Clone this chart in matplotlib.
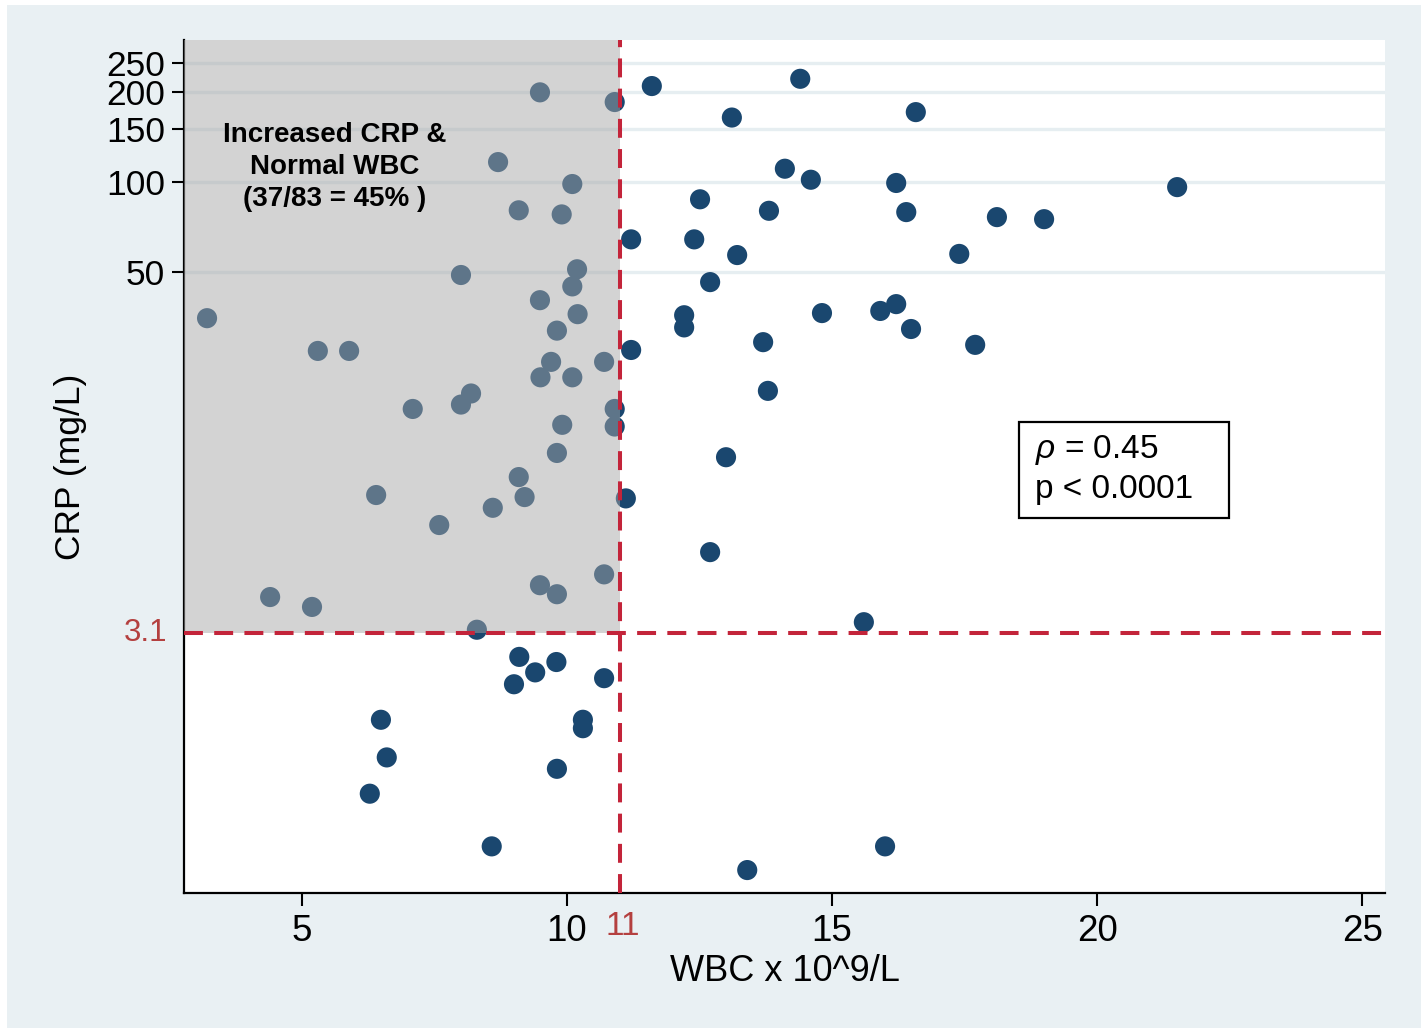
import matplotlib
matplotlib.use("Agg")
import matplotlib.pyplot as plt
from matplotlib.patches import Rectangle

plt.rcParams['font.family'] = ['Liberation Sans', 'DejaVu Sans']
plt.rcParams['mathtext.fontset'] = 'custom'
plt.rcParams['mathtext.rm'] = 'Liberation Sans'
plt.rcParams['mathtext.it'] = 'Liberation Sans:italic'

# WBC (x 10^9/L) and CRP (mg/L) values
wbc = [9.49, 10.90, 8.70, 10.10, 9.09, 9.90, 10.19, 8.00, 10.10, 9.49,
       3.21, 10.20, 9.81, 5.30, 5.89, 9.70, 10.70, 9.50, 10.10, 8.19,
       8.00, 7.09, 10.90, 9.91, 10.90, 9.81, 9.09, 6.40, 9.20, 8.60,
       7.59, 10.70, 9.49, 9.81, 4.40, 5.19,
       11.60, 14.40, 13.11, 16.58, 14.11, 14.60, 16.21, 21.51, 12.51, 13.81,
       16.40, 18.11, 19.00, 11.21, 12.40, 13.21, 17.40, 12.70, 16.21, 12.21,
       14.81, 15.91, 12.21, 16.49, 13.70, 17.70, 11.21, 13.79, 13.00, 11.11,
       12.70, 15.60,
       8.30, 9.10, 9.80, 9.40, 9.00, 10.70, 6.49, 10.30, 10.30, 6.60,
       9.81, 6.28, 8.58, 16.00, 13.40]
crp = [199.1, 184.8, 116.4, 98.3, 80.3, 77.8, 51.0, 48.8, 44.7, 40.2,
       35.0, 36.1, 31.8, 27.2, 27.2, 25.0, 25.0, 22.2, 22.2, 19.6,
       18.0, 17.4, 17.4, 15.4, 15.2, 12.4, 10.3, 8.97, 8.83, 8.13,
       7.12, 4.87, 4.48, 4.18, 4.09, 3.79,
       209, 221, 164, 171, 110.6, 101.6, 99.1, 96.0, 87.4, 80.0,
       79.2, 76.2, 75.0, 64.2, 64.2, 56.9, 57.4, 46.2, 39.0, 35.8,
       36.4, 37.0, 32.6, 32.2, 29.1, 28.5, 27.4, 20.0, 12.0, 8.74,
       5.78, 3.37,
       3.18, 2.58, 2.48, 2.29, 2.09, 2.19, 1.59, 1.59, 1.49, 1.19,
       1.09, 0.90, 0.60, 0.60, 0.50]

x_ticks = [5, 10, 15, 20, 25]
y_ticks = [50, 100, 150, 200, 250]
wbc_cut = 11
crp_cut = 3.1
quad_label = "Increased CRP &\nNormal WBC\n(37/83 = 45% )"
stat_lines = [r"$\it{\rho}$ = 0.45", "p < 0.0001"]

navy = '#1A476F'
red = '#C3243A'

fig = plt.figure(figsize=(14.25, 10.30), dpi=100, facecolor='white')
fig.patches.append(Rectangle((0.0049, 0.0019), 0.9923, 0.9932, transform=fig.transFigure,
                             facecolor='#E9F0F3', edgecolor='none', zorder=-10))
ax = fig.add_axes([0.1293, 0.1330, 0.8426, 0.8282])
ax.set_facecolor('white')

ax.set_yscale('log')
ax.set_xlim(2.78, 25.43)
ax.set_ylim(0.419, 298)

ax.scatter(wbc, crp, s=210, color=navy, edgecolors='none', zorder=2)

# shaded quadrant
ax.add_patch(Rectangle((2.78, crp_cut), wbc_cut - 2.78, 298 - crp_cut,
                       facecolor='#a6a6a6', alpha=0.49, edgecolor='none', zorder=3))

ax.axhline(crp_cut, color=red, lw=2.9, linestyle=(0, (4.7, 2.8)), zorder=4)
ax.axvline(wbc_cut, color=red, lw=2.9, linestyle=(0, (4.7, 2.8)), zorder=4)

ax.set_xticks(x_ticks)
ax.set_yticks(y_ticks)
ax.set_yticklabels([str(v) for v in y_ticks])
ax.minorticks_off()
ax.tick_params(axis='both', length=9, width=1.5, direction='out', color='black')
ax.tick_params(axis='y', pad=5, labelsize=25.5)
ax.tick_params(axis='x', pad=6, labelsize=26.5)

ax.set_axisbelow(True)
ax.yaxis.grid(True, color='#E6EEF1', lw=2.4)
ax.xaxis.grid(False)

for s in ['top', 'right']:
    ax.spines[s].set_visible(False)
for s in ['left', 'bottom']:
    ax.spines[s].set_linewidth(1.6)
    ax.spines[s].set_color('black')

ax.set_xlabel("WBC x 10^9/L", fontsize=26)
ax.set_ylabel("CRP (mg/L)", fontsize=25.5)
ax.xaxis.set_label_coords(0.5, -0.071)
ax.yaxis.set_label_coords(-0.081, 0.5)

ax.text(-0.0144, crp_cut, "3.1", transform=ax.get_yaxis_transform(), ha='right', va='center',
        fontsize=22.5, color='#B4403F', zorder=6)
ax.text(wbc_cut + 0.05, -0.039, "11", transform=ax.get_xaxis_transform(), ha='center', va='center',
        fontsize=24, color='#B4403F', zorder=6)

ax.text(5.62, 112, quad_label, ha='center', va='center', fontsize=20, fontweight='bold',
        linespacing=1.3, zorder=6)

ax.add_patch(Rectangle((0.6952, 0.4396), 0.1749, 0.1126, transform=ax.transAxes,
                       facecolor='white', edgecolor='black', lw=1.6, zorder=6))
ax.text(0.7085, 0.5193, stat_lines[0], transform=ax.transAxes, ha='left', va='center',
        fontsize=24, zorder=7)
ax.text(0.7085, 0.4725, stat_lines[1], transform=ax.transAxes, ha='left', va='center',
        fontsize=24, zorder=7)

fig.savefig("out.png", dpi=100, facecolor=fig.get_facecolor())
